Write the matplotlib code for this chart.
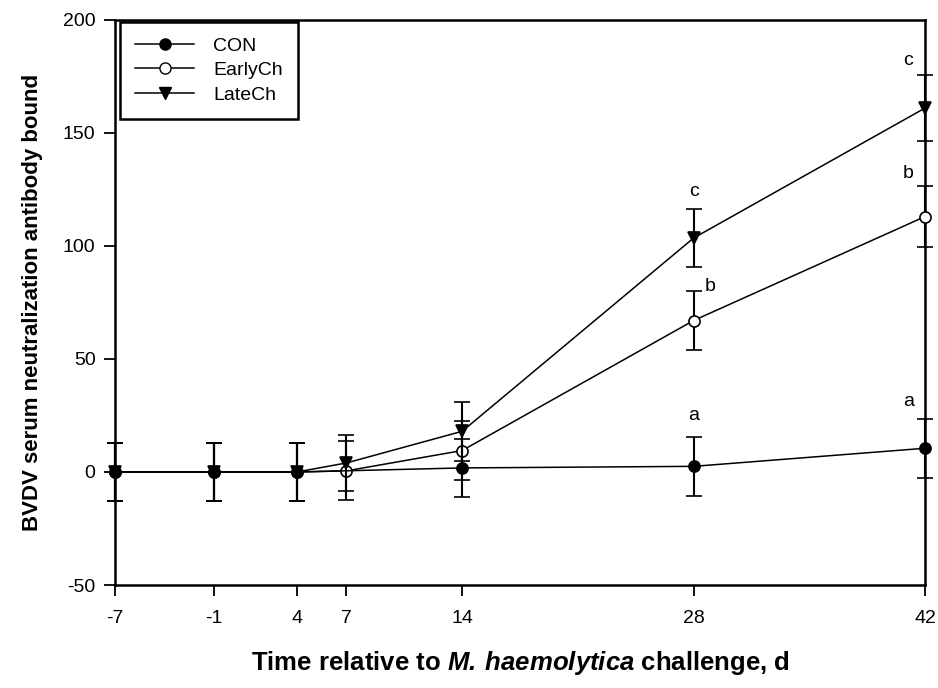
import matplotlib
matplotlib.use('Agg')
import matplotlib.pyplot as plt
from matplotlib.lines import Line2D

plt.rcParams['font.family'] = ['Liberation Sans', 'DejaVu Sans']
plt.rcParams['axes.unicode_minus'] = False
plt.rcParams['mathtext.fontset'] = 'custom'
plt.rcParams['mathtext.bfit'] = 'Liberation Sans:italic:bold'
plt.rcParams['mathtext.rm'] = 'Liberation Sans:bold'

# data
con_days = [-7, -1, 4, 14, 28, 42]
con_vals = [0, 0, 0, 1.8, 2.5, 10.5]
con_err = [13, 13, 13, 13, 13, 13]

days = [-7, -1, 4, 7, 14, 28, 42]
early_vals = [0, 0, 0, 0.5, 9.5, 67, 113]
early_err = [13, 13, 13, 13, 13, 13, 13.5]
late_vals = [0, 0, 0, 4, 18, 103.5, 161]
late_err = [13, 13, 13, 12.5, 13, 12.7, 14.5]

xticks = [-7, -1, 4, 7, 14, 28, 42]
yticks = [-50, 0, 50, 100, 150, 200]

# significance letters (x, y, text)
let_x = [28, 29, 28, 41, 41, 41]
let_y = [25, 82, 124, 31, 132, 182]
let_t = ['a', 'b', 'c', 'a', 'b', 'c']

fig = plt.figure(figsize=[9.38, 6.88], dpi=100)
ax = fig.add_axes([0.1226, 0.1497, 0.8635, 0.8213])

kw = dict(color='black', lw=1.1, capsize=5.5, elinewidth=1.5, capthick=1.5,
          markersize=8, markeredgecolor='black', markeredgewidth=1.2, clip_on=False)
series = [(con_days, con_vals, con_err, 'o', 'black', 'CON', 6),
          (days, early_vals, early_err, 'o', 'white', 'EarlyCh', 3),
          (days, late_vals, late_err, 'v', 'black', 'LateCh', 4)]
handles = []
for x, y, e, m, fc, lab, z in series:
    eb = ax.errorbar(x, y, yerr=e, marker=m, mfc=fc, zorder=z, **kw)
    for art in eb.lines[1] + eb.lines[2]:
        art.set_clip_on(False)
    handles.append(Line2D([], [], color='black', lw=1.1, marker=m, mfc=fc,
                          mec='black', markersize=8, label=lab))

for x, y, t in zip(let_x, let_y, let_t):
    ax.text(x, y, t, ha='center', va='center', fontsize=14)

ax.set_xlim(-7, 42)
ax.set_ylim(-50, 200)
ax.set_xticks(xticks)
ax.set_yticks(yticks)
ax.tick_params(labelsize=14, length=8, width=1.3, direction='out', pad=10)
ax.tick_params(axis='y', pad=6)
for sp in ax.spines.values():
    sp.set_linewidth(1.8)

ax.set_xlabel(r'Time relative to $\bfit{M.\,haemolytica}$ challenge, d',
              fontsize=18.5, fontweight='bold', labelpad=16)
ax.set_ylabel('BVDV serum neutralization antibody bound', fontsize=16,
              fontweight='bold', labelpad=14)

leg = ax.legend(handles=handles, loc='upper left', bbox_to_anchor=(0.006, 0.997),
                borderaxespad=0, fontsize=14, handlelength=3.0, handletextpad=1.0,
                fancybox=False, edgecolor='black', framealpha=1, borderpad=0.8,
                labelspacing=0.35)
leg.get_frame().set_linewidth(1.8)

fig.savefig('out.png', dpi=100)
